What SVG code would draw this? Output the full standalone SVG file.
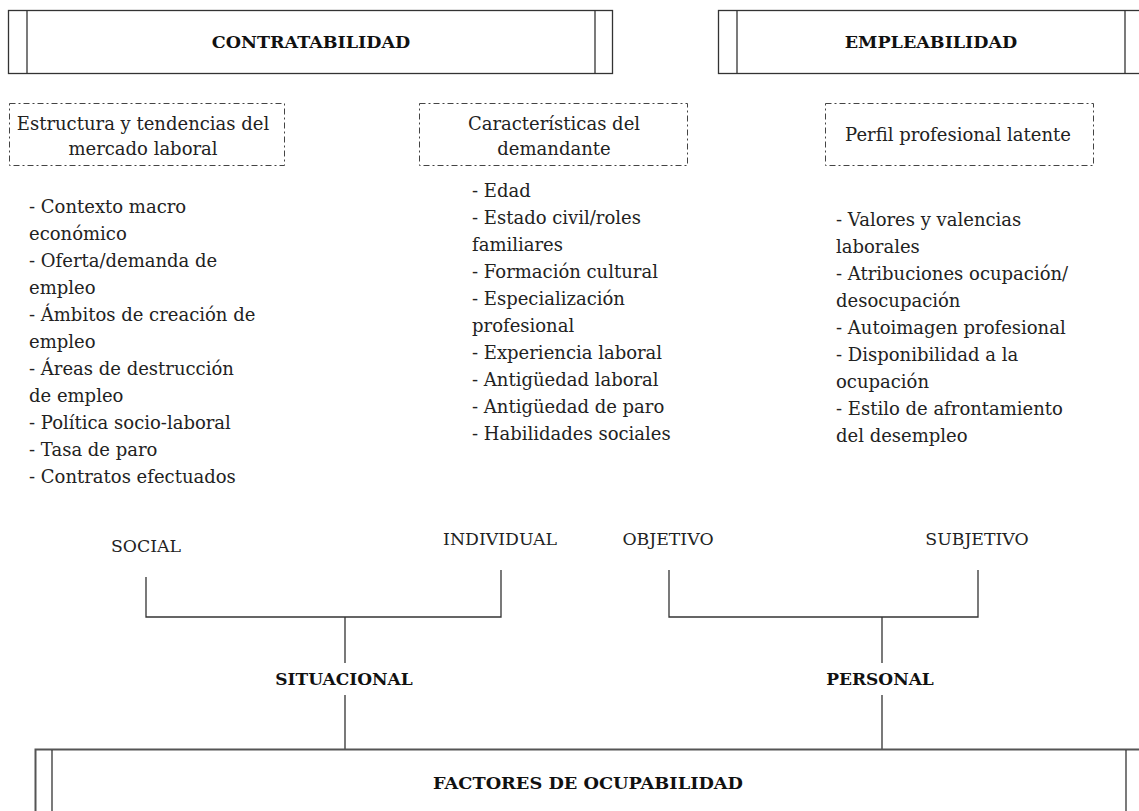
<svg xmlns="http://www.w3.org/2000/svg" width="1139" height="811" viewBox="0 0 1139 811">
<style>
.t{font-family:"DejaVu Serif","Liberation Serif",serif;font-size:18px;fill:#222}
.u{font-family:"DejaVu Serif","Liberation Serif",serif;font-size:17.3px;fill:#222}
.b{font-family:"DejaVu Serif","Liberation Serif",serif;font-size:17px;font-weight:bold;fill:#111}
.h{font-family:"DejaVu Serif","Liberation Serif",serif;font-size:17.5px;font-weight:bold;fill:#111}
.c{text-anchor:middle}
.box{fill:#fff;stroke:#333;stroke-width:1.3}
.ln{fill:none;stroke:#333;stroke-width:1.3}
.dash{fill:#fff;stroke:#444;stroke-width:1;stroke-dasharray:6 3 2 3}
</style>
<rect width="1139" height="811" fill="#fff"/>
<g id="contratabilidad">
<rect class="box" x="8.5" y="10.5" width="604" height="63"/>
<line class="ln" x1="27" y1="10.5" x2="27" y2="73.5"/>
<line class="ln" x1="595" y1="10.5" x2="595" y2="73.5"/>
<text class="h c" x="311" y="48">CONTRATABILIDAD</text>
</g>
<g id="empleabilidad">
<rect class="box" x="718.5" y="10.5" width="440" height="63"/>
<line class="ln" x1="737" y1="10.5" x2="737" y2="73.5"/>
<line class="ln" x1="1125" y1="10.5" x2="1125" y2="73.5"/>
<text class="h c" x="931" y="48">EMPLEABILIDAD</text>
</g>
<g id="estructura">
<rect class="dash" x="9.5" y="103.5" width="275" height="62"/>
<text class="t c" x="143" y="130">Estructura y tendencias del</text>
<text class="t c" x="143" y="155">mercado laboral</text>
</g>
<g id="caracteristicas">
<rect class="dash" x="419.5" y="103.5" width="268" height="62"/>
<text class="t c" x="554" y="130">Características del</text>
<text class="t c" x="554" y="155">demandante</text>
</g>
<g id="perfil">
<rect class="dash" x="825.5" y="103.5" width="268" height="62"/>
<text class="t c" x="958" y="141">Perfil profesional latente</text>
</g>
<g id="lista-contratabilidad" class="t">
<text x="29" y="213">- Contexto macro</text>
<text x="29" y="240">económico</text>
<text x="29" y="267">- Oferta/demanda de</text>
<text x="29" y="294">empleo</text>
<text x="29" y="321">- Ámbitos de creación de</text>
<text x="29" y="348">empleo</text>
<text x="29" y="375">- Áreas de destrucción</text>
<text x="29" y="402">de empleo</text>
<text x="29" y="429">- Política socio-laboral</text>
<text x="29" y="456">- Tasa de paro</text>
<text x="29" y="483">- Contratos efectuados</text>
</g>
<g id="lista-demandante" class="t">
<text x="472" y="197">- Edad</text>
<text x="472" y="224">- Estado civil/roles</text>
<text x="472" y="251">familiares</text>
<text x="472" y="278">- Formación cultural</text>
<text x="472" y="305">- Especialización</text>
<text x="472" y="332">profesional</text>
<text x="472" y="359">- Experiencia laboral</text>
<text x="472" y="386">- Antigüedad laboral</text>
<text x="472" y="413">- Antigüedad de paro</text>
<text x="472" y="440">- Habilidades sociales</text>
</g>
<g id="lista-perfil" class="t">
<text x="836" y="226">- Valores y valencias</text>
<text x="836" y="253">laborales</text>
<text x="836" y="280">- Atribuciones ocupación/</text>
<text x="836" y="307">desocupación</text>
<text x="836" y="334">- Autoimagen profesional</text>
<text x="836" y="361">- Disponibilidad a la</text>
<text x="836" y="388">ocupación</text>
<text x="836" y="415">- Estilo de afrontamiento</text>
<text x="836" y="442">del desempleo</text>
</g>
<g id="connectors">
<path class="ln" d="M146 577 V617 H501 V570"/>
<path class="ln" d="M345 617 V663 M345 695 V750"/>
<path class="ln" d="M669 570 V617 H978 V570"/>
<path class="ln" d="M882 617 V663 M882 695 V750"/>
</g>
<g id="social"><text class="u c" x="146" y="552">SOCIAL</text></g>
<g id="individual"><text class="u c" x="500" y="545">INDIVIDUAL</text></g>
<g id="objetivo"><text class="u c" x="668" y="545">OBJETIVO</text></g>
<g id="subjetivo"><text class="u c" x="977" y="545">SUBJETIVO</text></g>
<g id="situacional"><text class="b c" x="344" y="685">SITUACIONAL</text></g>
<g id="personal"><text class="b c" x="880" y="685">PERSONAL</text></g>
<g id="factores">
<rect x="35.5" y="749.5" width="1130" height="100" fill="#fff" stroke="#555" stroke-width="2"/>
<line class="ln" x1="52" y1="750" x2="52" y2="811"/>
<line class="ln" x1="1126" y1="750" x2="1126" y2="811"/>
<text class="h c" x="588" y="789" textLength="310" lengthAdjust="spacingAndGlyphs">FACTORES DE OCUPABILIDAD</text>
</g>
</svg>
